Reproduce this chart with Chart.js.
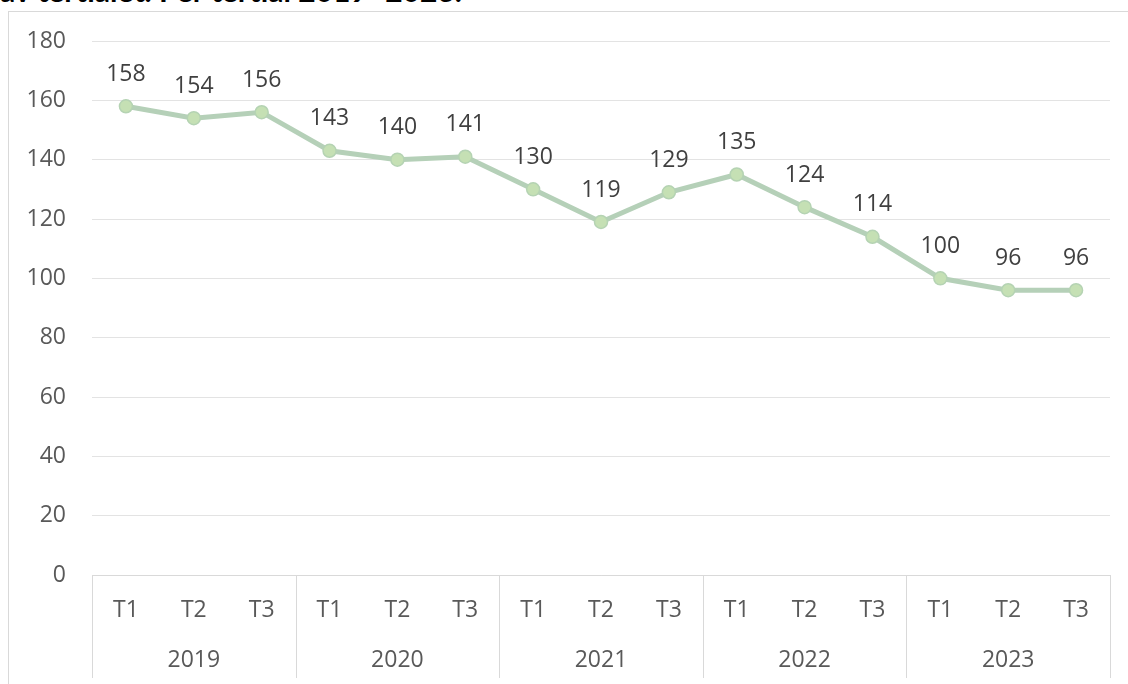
<!DOCTYPE html>
<html><head><meta charset="utf-8">
<script src="https://cdn.jsdelivr.net/npm/chart.js@4"></script>
<style>
html,body{margin:0;padding:0;background:#fff;overflow:hidden}
#wrap{position:relative;width:1128px;height:684px;overflow:hidden}
#frame{position:absolute;left:8px;top:11px;width:1200px;height:800px;border-left:1px solid #d9d9d9;border-top:1px solid #d9d9d9}
#title{position:absolute;left:0;top:-25px;font:bold 30px Lato;line-height:30px;color:#000;white-space:nowrap}
canvas{position:absolute;left:0;top:0}
</style></head><body>
<div id="wrap"><div id="frame"></div><div id="title">av tertialet. Per tertial 2019–2023.</div><canvas id="c" width="1128" height="684"></canvas></div>
<script>
const years = ['2019', '2020', '2021', '2022', '2023'];
const categories = ['T1','T2','T3','T1','T2','T3','T1','T2','T3','T1','T2','T3','T1','T2','T3'];
const values = [158, 154, 156, 143, 140, 141, 130, 119, 129, 135, 124, 114, 100, 96, 96];
const yMin = 0, yMax = 180, yStep = 20;

const textColor = '#595959';
const fontSpec = {family: "'Open Sans', sans-serif", size: 23, lineHeight: 1.2};

const groupPlugin = {
  id: 'groups',
  afterDraw(chart) {
    const ctx = chart.ctx, xs = chart.scales.x, ys = chart.scales.year;
    ctx.save();
    ctx.strokeStyle = '#d9d9d9';
    ctx.lineWidth = 1;
    const n = years.length;
    for (let k = 0; k <= n; k++) {
      const px = Math.round(xs.left + k * (xs.right - xs.left) / n) + 0.5;
      ctx.beginPath();
      ctx.moveTo(px, xs.top);
      ctx.lineTo(px, ys.bottom);
      ctx.stroke();
    }
    ctx.restore();
  }
};

const labelPlugin = {
  id: 'valueLabels',
  afterDatasetsDraw(chart) {
    const ctx = chart.ctx;
    const meta = chart.getDatasetMeta(0);
    ctx.save();
    ctx.fillStyle = '#404040';
    ctx.font = "23px 'Open Sans', sans-serif";
    ctx.textAlign = 'center';
    ctx.textBaseline = 'middle';
    meta.data.forEach((pt, i) => {
      ctx.fillText(String(values[i]), pt.x, pt.y - 32);
    });
    ctx.restore();
  }
};

new Chart(document.getElementById('c'), {
  type: 'line',
  data: {
    labels: categories,
    datasets: [{
      data: values,
      borderColor: '#b5d0b8',
      borderWidth: 5,
      tension: 0,
      pointRadius: 6.5,
      pointHoverRadius: 6.5,
      pointBackgroundColor: '#c5e0b4',
      pointBorderColor: '#b5d3b3',
      pointBorderWidth: 1.5,
      fill: false
    }]
  },
  options: {
    responsive: false,
    animation: false,
    events: [],
    layout: {padding: {top: 41, right: 18, bottom: 6, left: 0}},
    plugins: {legend: {display: false}, tooltip: {enabled: false}, title: {display: false}},
    scales: {
      x: {
        type: 'category', position: 'bottom', offset: true,
        grid: {display: false, drawTicks: false},
        border: {display: true, color: '#d9d9d9'},
        ticks: {color: textColor, font: fontSpec, padding: 22, maxRotation: 0, autoSkip: false},
        afterFit(s) { s.height = 50; }
      },
      year: {
        type: 'category', labels: years, position: 'bottom', offset: true,
        grid: {display: false, drawTicks: false},
        border: {display: false},
        ticks: {color: textColor, font: fontSpec, padding: 22, maxRotation: 0, autoSkip: false},
        afterFit(s) { s.height = 53; }
      },
      y: {
        min: yMin, max: yMax,
        ticks: {stepSize: yStep, color: textColor, font: fontSpec, padding: 26},
        grid: {color: '#e3e3e3', drawTicks: false},
        border: {display: false},
        afterFit(s) { s.width = 92; }
      }
    }
  },
  plugins: [groupPlugin, labelPlugin]
});
</script>
</body></html>
